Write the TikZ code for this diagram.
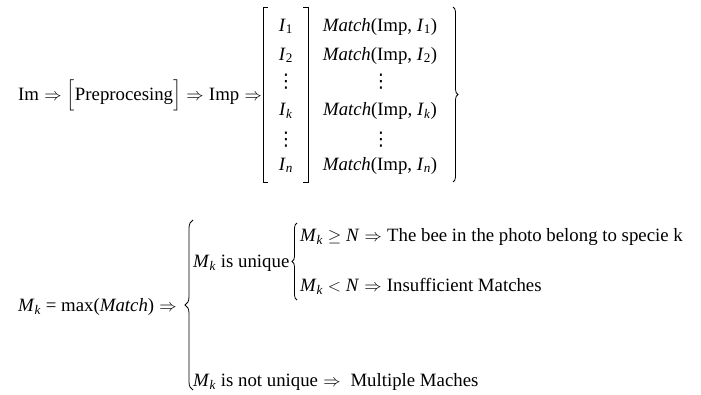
\documentclass[tikz,border=0pt]{standalone}
\usepackage{amsmath}
\usepackage{fontspec}
\setmainfont{Liberation Serif}
\newfontfamily\dotsfont{DejaVu Sans}
\usepackage{tikz}
\usetikzlibrary{
  decorations.pathreplacing
}
\newcommand{\Mk}{\textit{M}\textsubscript{\textit{k}}}
\newcommand{\Isub}[1]{\textit{I}\textsubscript{#1}}
\newcommand{\imply}{\;$\Rightarrow$\;}
\tikzset{
  txt/.style={anchor=base west, inner sep=0pt, font=\fontsize{18.8}{22}\selectfont},
  cell/.style={txt, anchor=base},
  dotcell/.style={txt, anchor=center, font=\fontsize{18.8}{22}\selectfont\dotsfont},
  bar/.style={line width=0.8pt},
  curly/.style={decorate, decoration={brace, amplitude=#1}, line width=0.8pt},
  curly/.default=5pt
}

\begin{document}
\begin{tikzpicture}[x=1pt, y=-1pt]
  \useasboundingbox (0,0) rectangle (701,394);
  % first line
  \node[txt] (pre) at (18,100) {Im\imply$\Bigl[$Preprocesing$\Bigr]$\imply Imp\imply};
  \draw[bar] (268,7) -- (263,7) -- (263,182) -- (268,182);
  \draw[bar] (303,7) -- (308,7) -- (308,182) -- (303,182);
  \foreach \r/\s/\y in {1/1/31,2/2/60,k/\textit{k}/115,n/\textit{n}/170}{
    \node[cell] (i\r) at (286,\y) {\Isub{\s}};
    \node[cell] (m\r) at (380,\y) {\textit{Match}(Imp, \Isub{\s})};
  }
  \foreach \y in {82,140}{
    \node[dotcell] (di\y) at (286,\y) {⋮};
    \node[dotcell] (dm\y) at (381,\y) {⋮};
  }
  \draw[curly] (453,7) -- (453,182);
  % decision
  \node[txt] (mx) at (18,311) {\Mk{} = max(\textit{Match})\imply};
  \draw[curly=8pt] (193,390) -- (193,220);
  \node[txt] (uq) at (193,267) {\Mk{} is unique};
  \draw[curly] (297,300) -- (297,223);
  \node[txt] (ge) at (300,241) {\Mk{} $\geq$ \textit{N}\imply The bee in the photo belong to specie k};
  \node[txt] (lt) at (300,291) {\Mk{} $<$ \textit{N}\imply Insufficient Matches};
  \node[txt] (nu) at (193,386) {\Mk{} is not unique\imply\ Multiple Maches};
\end{tikzpicture}
\end{document}
